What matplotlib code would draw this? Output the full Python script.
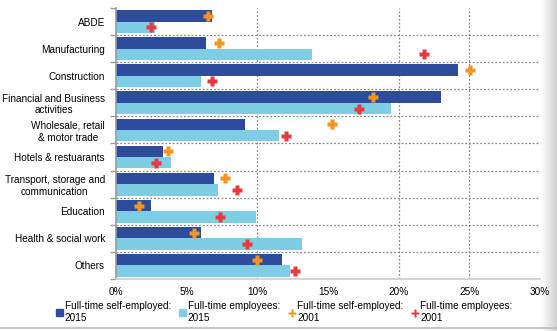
import numpy as np
import matplotlib.pyplot as plt
from matplotlib.patches import Patch
from matplotlib.lines import Line2D

categories = ["ABDE", "Manufacturing", "Construction", "Financial and Business\nactivities",
              "Wholesale, retail\n& motor trade", "Hotels & restuarants",
              "Transport, storage and\ncommunication", "Education", "Health & social work", "Others"]
self_2015 = [6.8, 6.35, 24.2, 23.0, 9.1, 3.35, 6.95, 2.5, 6.0, 11.75]
empl_2015 = [2.75, 13.9, 6.0, 19.45, 11.5, 3.9, 7.2, 9.9, 13.15, 12.3]
self_2001 = [6.5, 7.3, 25.05, 18.2, 15.25, 3.65, 7.7, 1.6, 5.55, 9.95]
empl_2001 = [2.5, 21.8, 6.8, 17.2, 12.05, 2.8, 8.55, 7.35, 9.25, 12.65]
legend_labels = ["Full-time self-employed:\n2015", "Full-time employees:\n2015",
                 "Full-time self-employed:\n2001", "Full-time employees:\n2001"]
xticks = [0, 5, 10, 15, 20, 25, 30]

dark = "#2d4c9b"
light = "#7fcde4"
orange = "#f7941d"
red = "#e8393f"

plt.rcParams['font.family'] = ['Liberation Sans', 'DejaVu Sans']
fs = 7.2

fig = plt.figure(figsize=(5.57, 3.31), dpi=100)
ax = fig.add_axes([116/557, 1-279/331, 424/557, 271/331])

n = len(categories)
y = np.arange(n)
h = 0.42
ax.barh(y - h/2, self_2015, height=h, color=dark, zorder=2)
ax.barh(y + h/2, empl_2015, height=h, color=light, zorder=2)
ax.plot(self_2001, y - h/2, linestyle="none", marker="P", ms=6.5, color=orange, mec="none", zorder=3)
ax.plot(empl_2001, y + h/2, linestyle="none", marker="P", ms=6.5, color=red, mec="none", zorder=3)

ax.set_ylim(n - 0.5, -0.5)
ax.set_xlim(0, 30)

for xv in [10, 20, 25]:
    ax.axvline(xv, color="#888888", lw=0.9, ls=(0, (1.5, 1.5)), zorder=1)
for yb in np.arange(0.5, n - 0.5, 1):
    ax.axhline(yb, color="#888888", lw=0.9, ls=(0, (1.5, 1.5)), zorder=1)

ax.set_yticks(y)
ax.set_yticklabels(categories, fontsize=fs, ha="right", multialignment="center")
ax.set_yticks(np.arange(-0.5, n + 0.5, 1), minor=True)
ax.tick_params(axis="y", which="major", length=0, pad=8)
ax.tick_params(axis="y", which="minor", length=4, color="#999999", width=1)
ax.set_xticks(xticks)
ax.set_xticklabels([f"{v}%" for v in xticks], fontsize=fs)
ax.tick_params(axis="x", length=0, pad=6)

for s in ["top", "right"]:
    ax.spines[s].set_visible(False)
ax.spines["left"].set_color("#999999")
ax.spines["left"].set_linewidth(1.2)
ax.spines["bottom"].set_color("#cccccc")
ax.spines["bottom"].set_linewidth(1.2)

handles = [Patch(color=dark), Patch(color=light),
           Line2D([], [], linestyle="none", marker="P", ms=5.5, color=orange, mec="none"),
           Line2D([], [], linestyle="none", marker="P", ms=5.5, color=red, mec="none")]
fig.legend(handles, legend_labels, loc="center", bbox_to_anchor=(0.51, 1-312/331), ncol=4,
           frameon=False, fontsize=fs, handlelength=0.7, handleheight=0.7,
           handletextpad=0.2, columnspacing=0.8, borderpad=0, labelspacing=0)

# light frame at right / bottom edge
grad = np.linspace(1, 0.82, 64).reshape(1, -1)
gax = fig.add_axes([540/557, 0, 17/557, 1])
gax.imshow(grad, aspect="auto", cmap="gray", vmin=0, vmax=1, extent=[0, 1, 0, 1])
gax.axis("off")
gax.set_zorder(-1)
fig.add_artist(Line2D([0, 1], [3/331, 3/331], color="#bbbbbb", lw=1.2, transform=fig.transFigure))

fig.savefig("out.png", dpi=100)
